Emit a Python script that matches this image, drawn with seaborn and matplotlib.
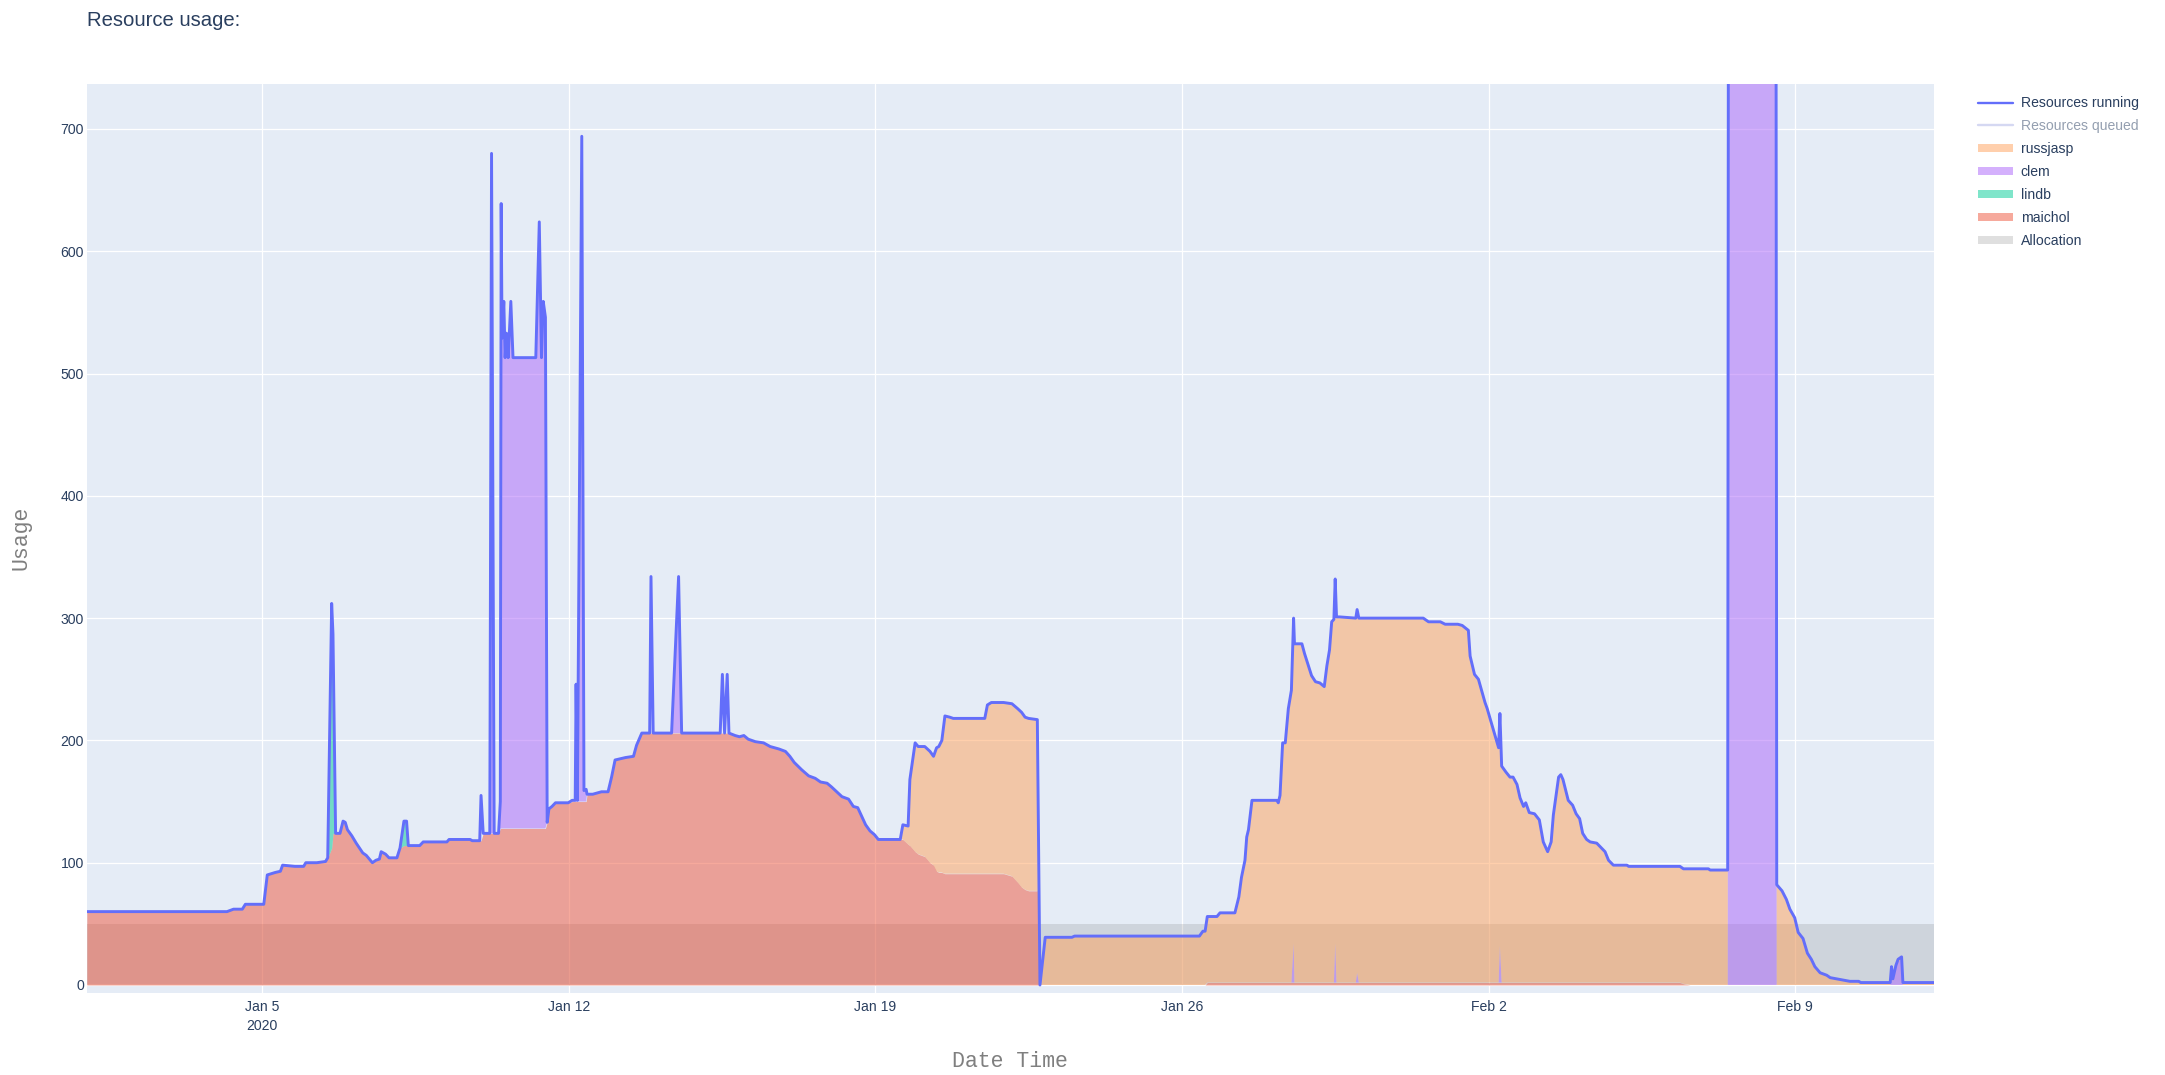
import numpy as np
import pandas as pd
import matplotlib
matplotlib.use("Agg")
import matplotlib.pyplot as plt
import seaborn as sns
from matplotlib.lines import Line2D
from matplotlib.patches import Patch

# ---------------------------------------------------------------- data
START_DATE = "2020-01-01"

# sample times, in days after START_DATE
DAYS = [
    0.00, 3.20, 3.35, 3.55, 3.62, 4.04, 4.12, 4.30, 4.42, 4.47,
    4.75, 4.95, 5.00, 5.25, 5.45, 5.50, 5.59, 5.62, 5.68, 5.78,
    5.85, 5.90, 5.95, 6.05, 6.15, 6.30, 6.38, 6.52, 6.60, 6.68,
    6.72, 6.82, 6.90, 7.08, 7.15, 7.24, 7.30, 7.34, 7.60, 7.68,
    8.22, 8.27, 8.75, 8.80, 8.97,
    9.00, 9.05, 9.20, 9.24, 9.30, 9.40, 9.44, 9.46, 9.48, 9.52,
    9.55, 9.58, 9.62, 9.68, 9.73, 10.25, 10.33, 10.38, 10.42, 10.47,
    10.51, 10.55, 10.62, 10.70, 10.99, 11.08, 11.15, 11.17, 11.20, 11.30,
    11.35, 11.40, 11.42, 11.55, 11.75, 11.90, 11.98, 12.06, 12.30, 12.48,
    12.55, 12.67, 12.85, 12.88, 12.93, 13.35, 13.43, 13.51, 13.58, 14.46,
    14.51, 14.56, 14.62, 14.66,
    14.80, 14.90, 15.00, 15.10, 15.26, 15.45, 15.60, 15.80, 15.95, 16.05,
    16.15, 16.32, 16.48, 16.63, 16.75, 16.90, 17.00, 17.12, 17.24, 17.39,
    17.50, 17.60, 17.69, 17.78, 17.88, 17.98, 18.07, 18.57,
    18.63, 18.75, 18.79, 18.91, 18.98, 19.13, 19.25, 19.33, 19.40, 19.45,
    19.52, 19.59, 19.70, 19.78, 20.50, 20.56, 20.65, 20.93, 21.12, 21.25,
    21.34, 21.42, 21.50, 21.70,
    21.76, 21.88, 22.49, 22.55, 25.40, 25.48, 25.53,
    25.58, 25.80, 25.87, 26.21, 26.30, 26.36, 26.44, 26.48, 26.52, 26.60,
    27.17, 27.20, 27.24, 27.30, 27.36, 27.43, 27.50, 27.55, 27.57, 27.74,
    27.80, 27.96, 28.05, 28.15, 28.25, 28.31, 28.37, 28.42, 28.47, 28.50,
    28.53, 28.60, 28.97, 29.00, 29.04, 30.51, 30.63, 30.90, 31.01, 31.30,
    31.40, 31.54, 31.58, 31.68, 31.77, 31.92, 31.97, 32.23, 32.26, 32.30,
    32.40, 32.49, 32.56, 32.65, 32.72, 32.80, 32.85, 32.93, 33.05, 33.16,
    33.25, 33.35, 33.43, 33.48, 33.60, 33.65, 33.70, 33.82, 33.92, 34.00,
    34.08, 34.15, 34.24, 34.32, 34.47, 34.58, 34.66, 34.74, 34.85, 35.16,
    35.20, 36.37,
    36.45, 36.60, 37.02, 37.06, 37.46, 37.48, 38.56, 38.58, 38.70, 38.80,
    38.88, 38.99, 39.07, 39.18, 39.28, 39.37, 39.45, 39.57, 39.72, 39.80,
    39.95, 40.10, 40.25, 40.45, 40.50, 41.17, 41.20, 41.23, 41.30, 41.35,
    41.43, 41.46, 42.17,
]

RESOURCES_RUNNING = [
    60, 60, 62, 62, 66, 66, 90, 92, 93, 98,
    97, 97, 100, 100, 101, 104, 312, 287, 124, 124,
    134, 133, 127, 122, 116, 108, 106, 100, 102, 103,
    109, 107, 104, 104, 112, 134, 134, 114, 114, 117,
    117, 119, 119, 118, 118,
    155, 124, 124, 680, 124, 124, 150, 639, 529, 559,
    513, 533, 513, 559, 513, 513, 624, 513, 559, 546,
    133, 144, 146, 149, 149, 151, 151, 246, 151, 694,
    159, 160, 156, 156, 158, 158, 170, 184, 186, 187,
    196, 206, 206, 334, 206, 206, 270, 334, 206, 206,
    254, 206, 254, 206,
    204, 203, 204, 201, 199, 198, 195, 193, 191, 187,
    182, 176, 171, 169, 166, 165, 162, 158, 154, 152,
    146, 145, 138, 131, 126, 123, 119, 119,
    131, 130, 168, 198, 195, 195, 191, 187, 194, 195,
    200, 220, 219, 218, 218, 229, 231, 231, 230, 226,
    223, 219, 218, 217,
    0, 39, 39, 40, 40, 44, 44,
    56, 56, 59, 59, 72, 88, 102, 121, 127, 151,
    151, 149, 155, 198, 198, 226, 241, 300, 279, 279,
    271, 253, 248, 247, 244, 261, 274, 297, 299, 332,
    301, 301, 300, 307, 300, 300, 297, 297, 295, 295,
    294, 290, 269, 254, 250, 231, 226, 194, 222, 179,
    174, 170, 170, 164, 153, 146, 149, 141, 140, 135,
    117, 109, 117, 139, 170, 172, 168, 151, 147, 140,
    136, 124, 119, 117, 116, 112, 109, 102, 98, 98,
    97, 97,
    95, 95, 95, 94, 94, 1000, 1000, 82, 77, 70,
    62, 55, 43, 38, 26, 21, 15, 10, 8, 6,
    5, 4, 3, 3, 2, 2, 15, 5, 16, 21,
    23, 2, 2,
]

MAICHOL = [
    60, 60, 62, 62, 66, 66, 90, 92, 93, 98,
    97, 97, 100, 100, 101, 104, 112, 124, 124, 124,
    134, 133, 127, 122, 116, 108, 106, 100, 102, 103,
    109, 107, 104, 104, 112, 114, 114, 114, 114, 117,
    117, 119, 119, 118, 118,
    118, 124, 124, 124, 124, 124, 128, 128, 128, 128,
    128, 128, 128, 128, 128, 128, 128, 128, 128, 128,
    133, 144, 146, 149, 149, 150, 150, 150, 150, 150,
    150, 150, 156, 156, 158, 158, 170, 184, 186, 187,
    196, 206, 206, 206, 206, 206, 206, 206, 206, 206,
    206, 206, 206, 206,
    204, 203, 204, 201, 199, 198, 195, 193, 191, 187,
    182, 176, 171, 169, 166, 165, 162, 158, 154, 152,
    146, 145, 138, 131, 126, 123, 119, 119,
    119, 115, 114, 109, 107, 105, 100, 98, 93, 92,
    92, 91, 91, 91, 91, 91, 91, 91, 89, 84,
    80, 78, 77, 77,
    0, 0, 0, 0, 0, 0, 0,
    2, 2, 2, 2, 2, 2, 2, 2, 2, 2,
    2, 2, 2, 2, 2, 2, 2, 2, 2, 2,
    2, 2, 2, 2, 2, 2, 2, 2, 2, 2,
    2, 2, 2, 2, 2, 2, 2, 2, 2, 2,
    2, 2, 2, 2, 2, 2, 2, 2, 2, 2,
    2, 2, 2, 2, 2, 2, 2, 2, 2, 2,
    2, 2, 2, 2, 2, 2, 2, 2, 2, 2,
    2, 2, 2, 2, 2, 2, 2, 2, 2, 2,
    2, 2,
    1, 0, 0, 0, 0, 0, 0, 0, 0, 0,
    0, 0, 0, 0, 0, 0, 0, 0, 0, 0,
    0, 0, 0, 0, 0, 0, 0, 0, 0, 0,
    0, 0, 0,
]

LINDB = [
    0, 0, 0, 0, 0, 0, 0, 0, 0, 0,
    0, 0, 0, 0, 0, 0, 200, 163, 0, 0,
    0, 0, 0, 0, 0, 0, 0, 0, 0, 0,
    0, 0, 0, 0, 0, 20, 20, 0, 0, 0,
    0, 0, 0, 0, 0,
    0, 0, 0, 0, 0, 0, 0, 0, 0, 0, 0, 0, 0, 0, 0, 0, 0, 0, 0, 0,
    0, 0, 0, 0, 0, 0, 0, 0, 0, 0, 0, 0, 0, 0, 0, 0, 0, 0, 0, 0,
    0, 0, 0, 0, 0, 0, 0, 0, 0, 0, 0, 0, 0, 0,
    0, 0, 0, 0, 0, 0, 0, 0, 0, 0, 0, 0, 0, 0, 0, 0, 0, 0, 0, 0,
    0, 0, 0, 0, 0, 0, 0, 0,
    0, 0, 0, 0, 0, 0, 0, 0, 0, 0, 0, 0, 0, 0, 0, 0, 0, 0, 0, 0,
    0, 0, 0, 0,
    0, 0, 0, 0, 0, 0, 0,
    0, 0, 0, 0, 0, 0, 0, 0, 0, 0, 0, 0, 0, 0, 0, 0, 0, 0, 0, 0,
    0, 0, 0, 0, 0, 0, 0, 0, 0, 0, 0, 0, 0, 0, 0, 0, 0, 0, 0, 0,
    0, 0, 0, 0, 0, 0, 0, 0, 0, 0, 0, 0, 0, 0, 0, 0, 0, 0, 0, 0,
    0, 0, 0, 0, 0, 0, 0, 0, 0, 0, 0, 0, 0, 0, 0, 0, 0, 0, 0, 0,
    0, 0,
    0, 0, 0, 0, 0, 0, 0, 0, 0, 0, 0, 0, 0, 0, 0, 0, 0, 0, 0, 0,
    0, 0, 0, 0, 0, 0, 0, 0, 0, 0, 0, 0, 0,
]

CLEM = [
    0, 0, 0, 0, 0, 0, 0, 0, 0, 0, 0, 0, 0, 0, 0, 0, 0, 0, 0, 0,
    0, 0, 0, 0, 0, 0, 0, 0, 0, 0, 0, 0, 0, 0, 0, 0, 0, 0, 0, 0,
    0, 0, 0, 0, 0,
    0, 0, 0, 556, 0, 0, 22, 511, 401, 431,
    385, 405, 385, 431, 385, 385, 496, 385, 431, 418,
    0, 0, 0, 0, 0, 1, 1, 96, 1, 544,
    9, 10, 0, 0, 0, 0, 0, 0, 0, 0,
    0, 0, 0, 0, 0, 0, 64, 128, 0, 0,
    0, 0, 0, 0,
    0, 0, 0, 0, 0, 0, 0, 0, 0, 0, 0, 0, 0, 0, 0, 0, 0, 0, 0, 0,
    0, 0, 0, 0, 0, 0, 0, 0,
    0, 0, 0, 0, 0, 0, 0, 0, 0, 0, 0, 0, 0, 0, 0, 0, 0, 0, 0, 0,
    0, 0, 0, 0,
    0, 0, 0, 0, 0, 0, 0,
    0, 0, 0, 0, 0, 0, 0, 0, 0, 0,
    0, 0, 0, 0, 0, 0, 0, 32, 0, 0,
    0, 0, 0, 0, 0, 0, 0, 0, 0, 32,
    0, 0, 0, 8, 0, 0, 0, 0, 0, 0,
    0, 0, 0, 0, 0, 0, 0, 0, 30, 0,
    0, 0, 0, 0, 0, 0, 0, 0, 0, 0,
    0, 0, 0, 0, 0, 0, 0, 0, 0, 0,
    0, 0, 0, 0, 0, 0, 0, 0, 0, 0,
    0, 0,
    0, 0, 0, 0, 0, 1000, 1000, 0, 0, 0,
    0, 0, 0, 0, 0, 0, 0, 0, 0, 0,
    0, 0, 0, 0, 0, 0, 13, 3, 14, 19,
    21, 0, 0,
]

RUSSJASP = [
    0, 0, 0, 0, 0, 0, 0, 0, 0, 0, 0, 0, 0, 0, 0, 0, 0, 0, 0, 0,
    0, 0, 0, 0, 0, 0, 0, 0, 0, 0, 0, 0, 0, 0, 0, 0, 0, 0, 0, 0,
    0, 0, 0, 0, 0,
    0, 0, 0, 0, 0, 0, 0, 0, 0, 0, 0, 0, 0, 0, 0, 0, 0, 0, 0, 0,
    0, 0, 0, 0, 0, 0, 0, 0, 0, 0, 0, 0, 0, 0, 0, 0, 0, 0, 0, 0,
    0, 0, 0, 0, 0, 0, 0, 0, 0, 0, 0, 0, 0, 0,
    0, 0, 0, 0, 0, 0, 0, 0, 0, 0, 0, 0, 0, 0, 0, 0, 0, 0, 0, 0,
    0, 0, 0, 0, 0, 0, 0, 0,
    12, 15, 54, 89, 88, 90, 91, 89, 101, 103,
    108, 129, 128, 127, 127, 138, 140, 140, 141, 142,
    143, 141, 141, 140,
    0, 39, 39, 40, 40, 44, 44,
    54, 54, 57, 57, 70, 86, 100, 119, 125, 149,
    149, 147, 153, 196, 196, 224, 239, 266, 277, 277,
    269, 251, 246, 245, 242, 259, 272, 295, 297, 298,
    299, 299, 298, 297, 298, 298, 295, 295, 293, 293,
    292, 288, 267, 252, 248, 229, 224, 192, 190, 177,
    172, 168, 168, 162, 151, 144, 147, 139, 138, 133,
    115, 107, 115, 137, 168, 170, 166, 149, 145, 138,
    134, 122, 117, 115, 114, 110, 107, 100, 96, 96,
    95, 95,
    94, 95, 95, 94, 94, 0, 0, 82, 77, 70,
    62, 55, 43, 38, 26, 21, 15, 10, 8, 6,
    5, 4, 3, 3, 2, 2, 2, 2, 2, 2,
    2, 2, 2,
]

ALLOCATION_DAYS = [0.00, 42.17]
ALLOCATION = [50, 50]

TICK_DATES = ["2020-01-05", "2020-01-12", "2020-01-19",
              "2020-01-26", "2020-02-02", "2020-02-09"]
TICK_LABELS = ["Jan 5\n2020", "Jan 12", "Jan 19", "Jan 26", "Feb 2", "Feb 9"]
Y_TICKS = [0, 100, 200, 300, 400, 500, 600, 700]

LEGEND_LABELS = ["Resources running", "Resources queued", "russjasp",
                 "clem", "lindb", "maichol", "Allocation"]

for name, arr in [("run", RESOURCES_RUNNING), ("mai", MAICHOL), ("lin", LINDB),
                  ("clem", CLEM), ("russ", RUSSJASP)]:
    assert len(arr) == len(DAYS), (name, len(arr), len(DAYS))

# ---------------------------------------------------------------- style
W, H = 2165, 1075
TEXT = "#2a3f5f"
C_RUN = "#636EFA"
C_RUSS = "#FFA15A"
C_CLEM = "#AB63FA"
C_LIN = "#00CC96"
C_MAI = "#EF553B"
C_ALLOC = (0.5, 0.5, 0.5)

sns.set_theme(style="darkgrid", rc={
    "axes.facecolor": "#E5ECF6",
    "grid.color": "white",
    "grid.linewidth": 0.9,
    "axes.edgecolor": "#E5ECF6",
    "figure.facecolor": "white",
})
plt.rcParams["font.family"] = ["Liberation Sans", "DejaVu Sans"]

start = pd.Timestamp(START_DATE)
times = start + pd.to_timedelta(DAYS, unit="D")
df = pd.DataFrame({
    "time": times,
    "running": RESOURCES_RUNNING,
    "maichol": MAICHOL,
    "lindb": LINDB,
    "clem": CLEM,
    "russjasp": RUSSJASP,
})
alloc_times = start + pd.to_timedelta(ALLOCATION_DAYS, unit="D")

fig = plt.figure(figsize=(W / 100, H / 100), dpi=100)
left, right, top, bottom = 86.8, 1934.0, 84.2, 992.7
ax = fig.add_axes([left / W, 1 - bottom / H, (right - left) / W, (bottom - top) / H])

ax.axhline(0, color="white", lw=1.5, zorder=1)

# allocation band (drawn first, under the stack)
ax.fill_between(alloc_times, 0, ALLOCATION, color=C_ALLOC, alpha=0.22, lw=0, zorder=2)

# stacked areas
base = np.zeros(len(df))
for col, colr in [("maichol", C_MAI), ("lindb", C_LIN), ("clem", C_CLEM), ("russjasp", C_RUSS)]:
    top_v = base + df[col].to_numpy(dtype=float)
    ax.fill_between(df["time"], base, top_v, color=colr, alpha=0.5, lw=0, zorder=3)
    base = top_v

sns.lineplot(data=df, x="time", y="running", ax=ax, color=C_RUN, lw=2.1,
             estimator=None, sort=False, zorder=5)

ax.set_xlim(times[0], times[-1])
ax.set_ylim(-6.3, 736.6)
ax.set_xticks(pd.to_datetime(TICK_DATES))
ax.set_xticklabels(TICK_LABELS)
ax.set_yticks(Y_TICKS)
ax.set_yticklabels([str(v) for v in Y_TICKS])
ax.set_xlabel("")
ax.set_ylabel("")
ax.tick_params(axis="both", length=0, colors=TEXT, labelsize=10.1)
ax.tick_params(axis="x", pad=5.6)
ax.tick_params(axis="y", pad=2.0)
for lbl in ax.get_xticklabels():
    lbl.set_linespacing(1.42)
for sp in ax.spines.values():
    sp.set_visible(False)
ax.grid(True, color="white", lw=0.9)

# titles
fig.text(87 / W, 1 - 26 / H, "Resource usage:", fontsize=14.6, color=TEXT,
         ha="left", va="baseline")
mono = ["Liberation Mono", "DejaVu Sans Mono"]
fig.text(1010 / W, 1 - 1067 / H, "Date Time", family=mono, fontsize=15.5,
         color="#7f7f7f", ha="center", va="baseline")
fig.text(21 / W, 1 - 538 / H, "Usage", family=mono, fontsize=15.5,
         color="#7f7f7f", ha="center", va="center", rotation=90)

# legend
handles = [
    Line2D([], [], color=C_RUN, lw=1.7),
    Line2D([], [], color="#D5D8F2", lw=1.7),
    Patch(facecolor=C_RUSS, alpha=0.5, edgecolor="none"),
    Patch(facecolor=C_CLEM, alpha=0.5, edgecolor="none"),
    Patch(facecolor=C_LIN, alpha=0.5, edgecolor="none"),
    Patch(facecolor=C_MAI, alpha=0.5, edgecolor="none"),
    Patch(facecolor=C_ALLOC, alpha=0.25, edgecolor="none"),
]
leg = fig.legend(handles, LEGEND_LABELS, loc="upper left",
                 bbox_to_anchor=(1978 / W, 1 - 96 / H), frameon=False,
                 borderpad=0, borderaxespad=0, handlelength=2.5, handleheight=0.5,
                 handletextpad=0.55, labelspacing=0.64, fontsize=10.1)
for i, txt in enumerate(leg.get_texts()):
    txt.set_color("#949FB0" if i == 1 else TEXT)

fig.savefig("out.png", dpi=100)
